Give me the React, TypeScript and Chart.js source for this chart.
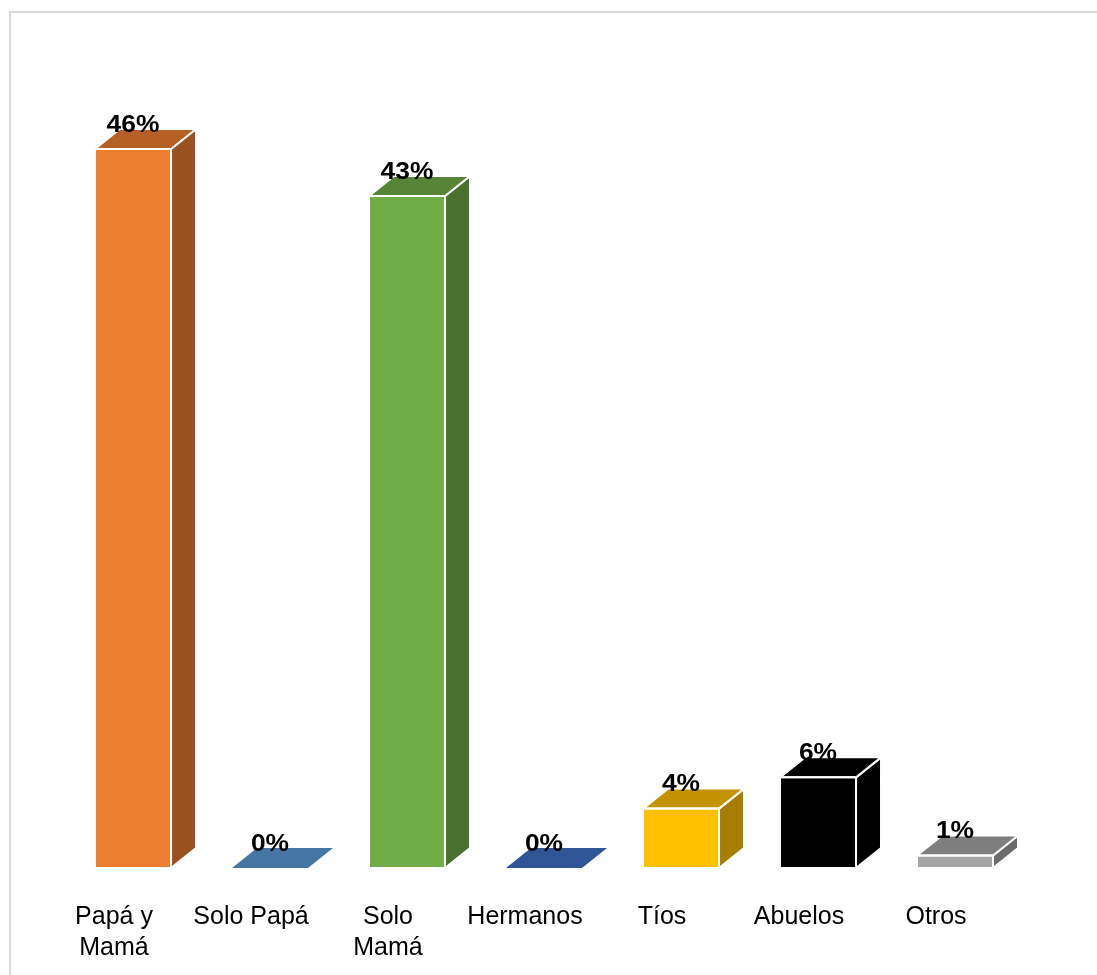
import React, { useEffect, useRef } from "react";
import { Chart, registerables } from "chart.js";

Chart.register(...registerables);

const categories: (string | string[])[] = [
  ["Papá y", "Mamá"],
  "Solo Papá",
  ["Solo", "Mamá"],
  "Hermanos",
  "Tíos",
  "Abuelos",
  "Otros",
];
const values = [46, 0, 43, 0, 3.8, 5.8, 0.8];
const valueLabels = ["46%", "0%", "43%", "0%", "4%", "6%", "1%"];

const frontColors = ["#ED7D31", "#5B9BD5", "#70AD47", "#4472C4", "#FFC000", "#000000", "#A5A5A5"];
const topColors = ["#B66026", "#4677A4", "#568537", "#2F5597", "#C49400", "#000000", "#7F7F7F"];
const sideColors = ["#9A5120", "#3C6690", "#49702E", "#2A4A85", "#A67D00", "#000000", "#6B6B6B"];

const DX = 25;
const DY = 20;
const FONT = "'Liberation Sans', Arial, sans-serif";

const bar3dPlugin = {
  id: "bar3d",
  beforeDraw(chart: any) {
    const ctx = chart.ctx;
    ctx.save();
    ctx.strokeStyle = "#D9D9D9";
    ctx.lineWidth = 2;
    ctx.strokeRect(10, 12, 3000, 3000);
    ctx.restore();
  },
  afterDatasetsDraw(chart: any) {
    const ctx = chart.ctx;
    const meta = chart.getDatasetMeta(0);
    meta.data.forEach((el: any, i: number) => {
      const { x, y, base, width } = el.getProps(["x", "y", "base", "width"], true);
      const L = x - width / 2;
      const R = x + width / 2;
      const top = y;
      const zero = Math.abs(base - top) < 0.5;
      ctx.save();
      if (!zero) {
        ctx.beginPath();
        ctx.moveTo(R, top);
        ctx.lineTo(R + DX, top - DY);
        ctx.lineTo(R + DX, base - DY);
        ctx.lineTo(R, base);
        ctx.closePath();
        ctx.fillStyle = sideColors[i];
        ctx.fill();
        ctx.strokeStyle = "#FFFFFF";
        ctx.lineWidth = 2;
        ctx.lineJoin = "round";
        ctx.stroke();
      }
      ctx.beginPath();
      ctx.moveTo(L, top);
      ctx.lineTo(R, top);
      ctx.lineTo(R + DX, top - DY);
      ctx.lineTo(L + DX, top - DY);
      ctx.closePath();
      ctx.fillStyle = topColors[i];
      ctx.fill();
      if (!zero) {
        ctx.strokeStyle = "#FFFFFF";
        ctx.lineWidth = 2;
        ctx.stroke();
        ctx.strokeRect(L, top, width, base - top);
      }
      ctx.restore();
    });
    meta.data.forEach((el: any, i: number) => {
      const { x, y } = el.getProps(["x", "y"], true);
      ctx.save();
      ctx.translate(x, y - 24);
      ctx.scale(1.1, 1);
      ctx.font = `bold 24px ${FONT}`;
      ctx.fillStyle = "#000000";
      ctx.textAlign = "center";
      ctx.textBaseline = "middle";
      ctx.fillText(valueLabels[i], 0, 0);
      ctx.restore();
    });
  },
};

export default function App() {
  const ref = useRef<HTMLCanvasElement | null>(null);
  useEffect(() => {
    if (!ref.current) return;
    const chart = new Chart(ref.current, {
      type: "bar",
      data: {
        labels: categories as any,
        datasets: [
          {
            data: values,
            backgroundColor: frontColors,
            borderWidth: 0,
            barPercentage: 1,
            categoryPercentage: 0.555,
          },
        ],
      },
      options: {
        responsive: false,
        animation: false,
        devicePixelRatio: 1,
        layout: { padding: { left: 64.5, right: 73.5, top: 86.5, bottom: 0 } },
        plugins: {
          legend: { display: false },
          tooltip: { enabled: false },
        },
        scales: {
          y: { display: false, min: 0, max: 50 },
          x: {
            grid: { display: false, drawTicks: false },
            border: { display: false },
            afterFit: (scale: any) => {
              scale.height = 107;
            },
            ticks: {
              color: "#000000",
              padding: 34,
              labelOffset: -19,
              maxRotation: 0,
              autoSkip: false,
              font: { family: FONT, size: 25, lineHeight: 1.22 },
            },
          },
        },
      },
      plugins: [bar3dPlugin],
    });
    return () => chart.destroy();
  }, []);
  return (
    <div style={{ position: "absolute", left: 0, top: 0, width: 1097, height: 975, overflow: "hidden", background: "#fff" }}>
      <canvas ref={ref} width={1097} height={975} style={{ display: "block" }} />
    </div>
  );
}
